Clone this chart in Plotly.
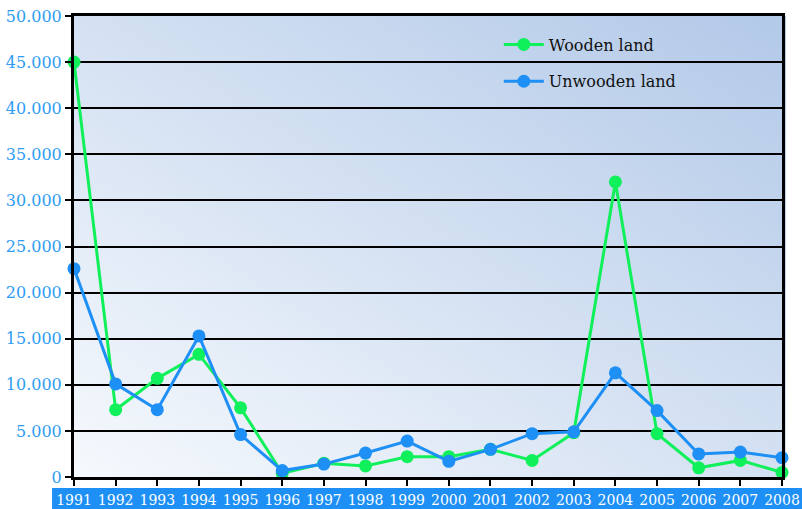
import base64

import plotly.graph_objects as go

years = list(range(1991, 2009))
wooden_land = [45000, 7300, 10700, 13300, 7500, 400, 1500, 1200, 2200, 2200,
               3000, 1800, 4800, 32000, 4700, 1000, 1800, 500]
unwooden_land = [22600, 10100, 7300, 15300, 4600, 700, 1400, 2600, 3900, 1700,
                 3000, 4700, 4900, 11300, 7200, 2500, 2700, 2100]

GREEN = '#10f05a'
BLUE = '#1e8ff5'
TICK_BLUE = '#2e9cf4'

# gradient for the plot background (light bottom-left -> blue top-right)
svg = ('<svg xmlns="http://www.w3.org/2000/svg" width="100" height="100" preserveAspectRatio="none">'
       '<defs><linearGradient id="g" x1="0" y1="1" x2="1" y2="0">'
       '<stop offset="0" stop-color="#f6f9fd"/><stop offset="1" stop-color="#b2c9e8"/>'
       '</linearGradient></defs><rect width="100" height="100" fill="url(#g)"/></svg>')
bg_src = 'data:image/svg+xml;base64,' + base64.b64encode(svg.encode()).decode()

fig = go.Figure()
fig.add_trace(go.Scatter(x=years, y=wooden_land, name='Wooden land', mode='lines+markers',
                         line=dict(color=GREEN, width=3), marker=dict(size=13, color=GREEN),
                         cliponaxis=False, legendgroup='a'))
fig.add_trace(go.Scatter(x=years, y=unwooden_land, name='Unwooden land', mode='lines+markers',
                         line=dict(color=BLUE, width=3), marker=dict(size=13, color=BLUE),
                         cliponaxis=False, legendgroup='b'))

fig.update_layout(
    width=802, height=509,
    margin=dict(l=74, r=20, t=16, b=32, autoexpand=False),
    paper_bgcolor='white',
    plot_bgcolor='rgba(0,0,0,0)',
    separators=',.',
    font=dict(family='DejaVu Serif', size=16, color='black'),
    legend=dict(x=0.600, y=0.975, xanchor='left', yanchor='top', bgcolor='rgba(0,0,0,0)',
                font=dict(size=16, color='#111111'), tracegroupgap=13, itemwidth=40),
    images=[dict(source=bg_src, xref='paper', yref='paper', x=0, y=1, sizex=1.006, sizey=1,
                 sizing='stretch', layer='below')],
    shapes=[dict(type='rect', xref='paper', yref='paper', x0=-0.031, x1=1.03, y0=-0.07, y1=-0.024,
                 fillcolor='#1e8ff5', line=dict(width=0), layer='below')],
)
fig.update_xaxes(range=[1991, 2008], tickmode='array', tickvals=years, ticktext=[str(y) for y in years],
                 showgrid=False, zeroline=False, showline=True, linecolor='black', linewidth=3,
                 mirror=True, ticks='outside', ticklen=6, tickwidth=2, tickcolor='black',
                 automargin=False,
                 tickfont=dict(family='DejaVu Serif', size=14, color='white'), ticklabelstandoff=2)
fig.update_yaxes(range=[0, 50000], dtick=5000, tickformat=',d',
                 showgrid=True, gridcolor='black', gridwidth=2, zeroline=False,
                 showline=True, linecolor='black', linewidth=3, mirror=True,
                 ticks='outside', ticklen=6, tickwidth=2, tickcolor='black', automargin=False,
                 tickfont=dict(family='DejaVu Serif', size=16, color=TICK_BLUE))

# page has a default 8px body margin; drop it so the figure fills the window exactly
fig.write_html('out.html', config={'displayModeBar': False},
               post_script="document.body.style.margin='0';")
